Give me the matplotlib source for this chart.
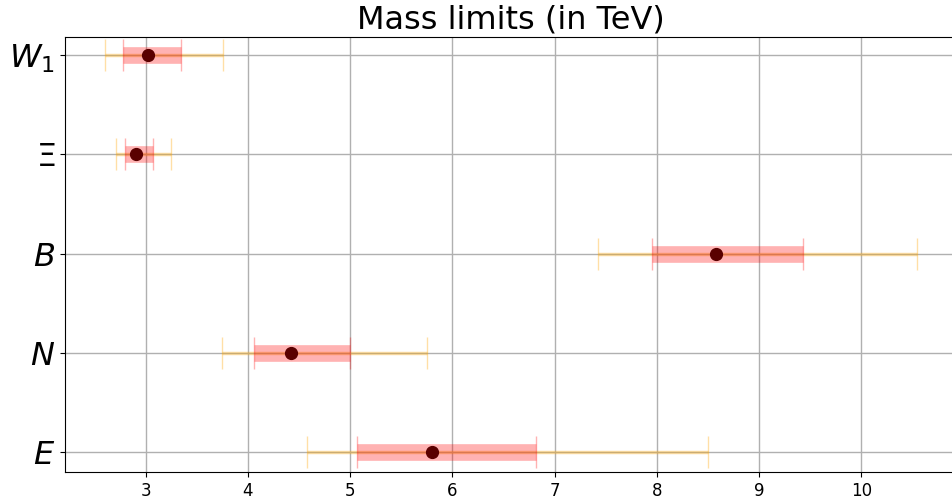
import numpy as np
import matplotlib
matplotlib.use('Agg')
import matplotlib.pyplot as plt

#particle labels, bottom to top
labels = [r'$E$', r'$N$', r'$B$', r'$\Xi$', r'$W_1$']
#central mass values (TeV)
central = [5.80, 4.42, 8.58, 2.91, 3.02]
#inner (1 sigma) range
inner_lo = [5.07, 4.06, 7.95, 2.80, 2.78]
inner_hi = [6.82, 5.00, 9.43, 3.07, 3.35]
#outer (2 sigma) range
outer_lo = [4.58, 3.75, 7.42, 2.71, 2.60]
outer_hi = [8.50, 5.75, 10.54, 3.25, 3.76]

y = np.arange(len(labels))
central = np.array(central)

fig = plt.figure(figsize=(9.52, 5.03), dpi=100)
ax = fig.add_axes([0.068, 0.0616, 0.937, 0.8644])

#outer range
ax.errorbar(central, y, xerr=[central - np.array(outer_lo), np.array(outer_hi) - central],
            fmt='none', ecolor='orange', alpha=0.35, elinewidth=2.5, capsize=11.5, capthick=1.0)
#inner range
ax.errorbar(central, y, xerr=[central - np.array(inner_lo), np.array(inner_hi) - central],
            fmt='none', ecolor='red', alpha=0.3, elinewidth=12, capsize=11.5, capthick=1.0)
#central value
ax.plot(central, y, 'o', color='#5a0000', markersize=8.5)

ax.set_yticks(y)
ax.set_yticklabels(labels, fontsize=23)
ax.tick_params(axis='x', labelsize=12)
ax.set_xlim(2.21, 10.933)
ax.set_ylim(-0.2, 4.18)
ax.grid(True, color='#b0b0b0', linewidth=1.0)
ax.set_axisbelow(True)
ax.set_title('Mass limits (in TeV)', fontsize=23)

plt.savefig('out.png', dpi=100)
